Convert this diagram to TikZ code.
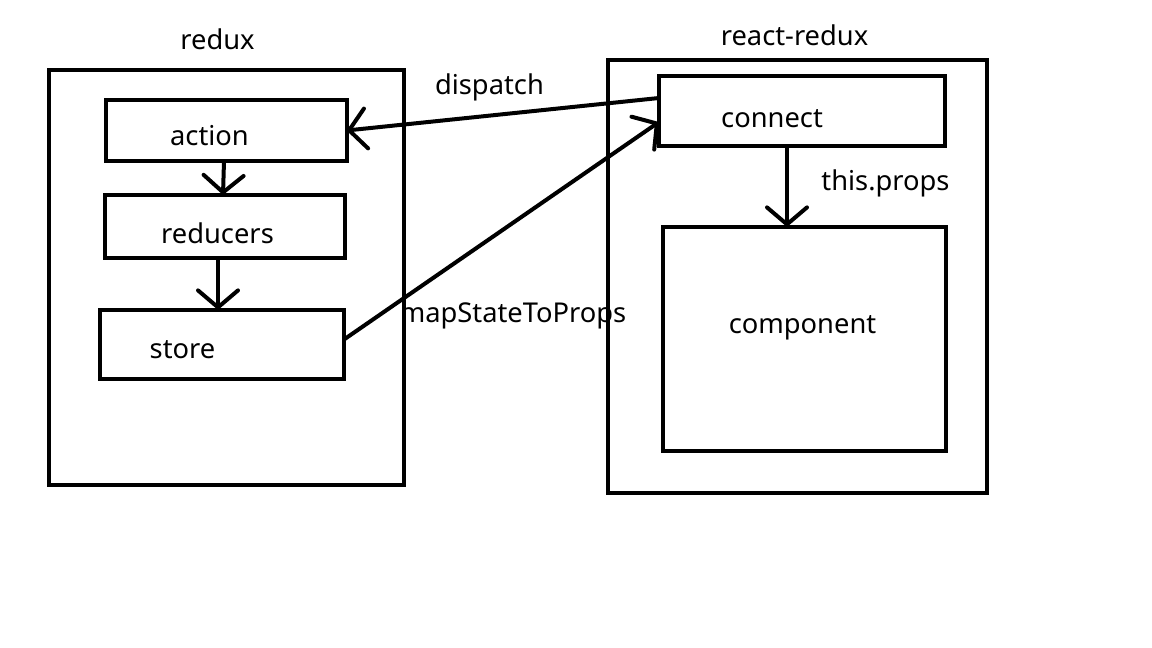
\documentclass[tikz,border=0pt]{standalone}
\usepackage{fontspec}
\setmainfont{Noto Sans}
\usetikzlibrary{arrows.meta}
\tikzset{
  box/.style={draw, line width=4pt, inner sep=0pt, outer sep=0pt},
  lbl/.style={anchor=base, inner sep=0pt, font=\fontsize{27.3}{30}\selectfont},
  flow/.style={line width=4pt, line cap=round,
    -{Straight Barb[length=17pt,width=40pt,line cap=round]}},
}
\begin{document}
\begin{tikzpicture}[x=1pt, y=-1pt]
\path[fill=white, use as bounding box] (0,0) rectangle (1152,648);

% redux side
\node[box, minimum width=355pt, minimum height=415pt] (reduxframe) at (226,277.5) {};
\node[box, minimum width=241pt, minimum height=61pt] (action) at (226,130.5) {};
\node[box, minimum width=240pt, minimum height=63pt] (reducers) at (225,226.5) {};
\node[box, minimum width=244pt, minimum height=69pt] (store) at (222,344.5) {};

% react-redux side
\node[box, minimum width=379pt, minimum height=433pt] (reactframe) at (797.5,276.5) {};
\node[box, minimum width=286pt, minimum height=70pt] (connect) at (802,111) {};
\node[box, minimum width=283pt, minimum height=224pt] (component) at (804.5,339) {};

% texts
\foreach \name/\x/\y/\txt in {tredux/217.5/49/redux, taction/209.5/145/action,
  treducers/217.5/243/reducers, tstore/182.5/358/store,
  tdispatch/489.5/94/dispatch, tmap/513/322/mapStateToProps,
  treact/794.5/45/react-redux, tconnect/772/127/connect,
  tprops/885.5/190/this.props, tcomponent/802.5/333/component}{
  \node[lbl] (\name) at (\x,\y) {\txt};
}

% arrows
\draw[flow] ([xshift=-2pt]action.south) -- ([xshift=-2pt]reducers.north);
\draw[flow] ([xshift=-7pt]reducers.south) -- ([xshift=-4pt]store.north);
\draw[flow] ([yshift=13pt]connect.west) -- (action.east);
\draw[flow] ([yshift=5pt]store.east) -- ([yshift=-11pt]connect.west);
\draw[flow] ([xshift=-15pt]connect.south) -- ([xshift=-17.5pt]component.north);
\end{tikzpicture}
\end{document}
